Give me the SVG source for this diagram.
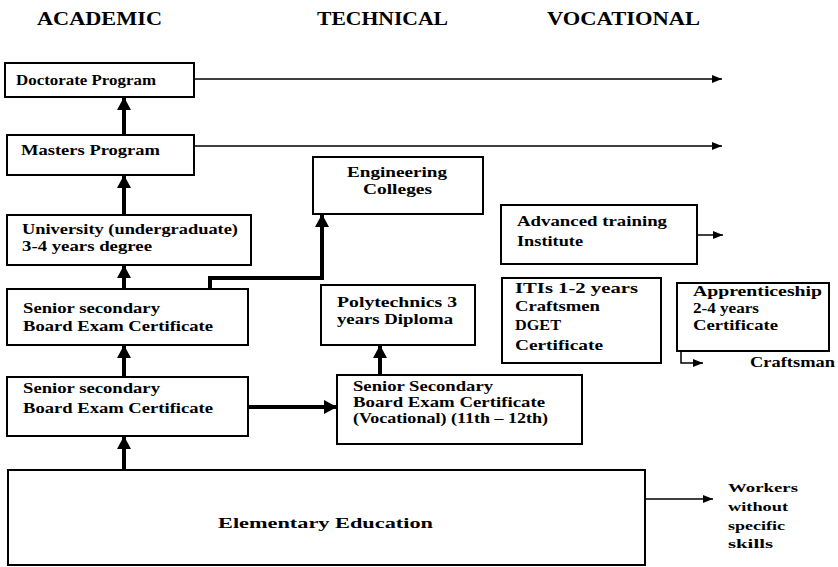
<svg xmlns="http://www.w3.org/2000/svg" width="838" height="567" viewBox="0 0 838 567">
<style>
  .box { fill: #fff; stroke: #000; stroke-width: 2; }
  .t { font-family: "Liberation Serif", "Times New Roman", serif; font-weight: bold; font-size: 14px; fill: #000; }
  .h { font-family: "Liberation Serif", "Times New Roman", serif; font-weight: bold; font-size: 19px; fill: #000; }
  .thick { fill: none; stroke: #000; stroke-width: 4; }
  .thin { fill: none; stroke: #000; stroke-width: 1.5; }
</style>
<defs>
  <marker id="bigArrow" markerUnits="userSpaceOnUse" markerWidth="16" markerHeight="16" refX="12" refY="8" orient="auto">
    <path d="M0,1 L13,8 L0,15 Z" fill="#000"/>
  </marker>
  <marker id="smallArrow" markerUnits="userSpaceOnUse" markerWidth="12" markerHeight="10" refX="10" refY="5" orient="auto">
    <path d="M0,1 L10,5 L0,9 Z" fill="#000"/>
  </marker>
</defs>
<rect width="838" height="567" fill="#fff"/>

<g id="headers">
  <text class="h" x="37" y="25" textLength="125" lengthAdjust="spacingAndGlyphs">ACADEMIC</text>
  <text class="h" x="317" y="25" textLength="131" lengthAdjust="spacingAndGlyphs">TECHNICAL</text>
  <text class="h" x="547" y="25" textLength="153" lengthAdjust="spacingAndGlyphs">VOCATIONAL</text>
</g>

<g id="doctorate">
  <rect class="box" x="5" y="63" width="189" height="34"/>
  <text class="t" x="16" y="85" textLength="140" lengthAdjust="spacingAndGlyphs">Doctorate Program</text>
</g>
<g id="masters">
  <rect class="box" x="7" y="135" width="187" height="40"/>
  <text class="t" x="21" y="155" textLength="139" lengthAdjust="spacingAndGlyphs">Masters Program</text>
</g>
<g id="university">
  <rect class="box" x="7" y="215" width="244" height="50"/>
  <text class="t" x="22" y="234" textLength="216" lengthAdjust="spacingAndGlyphs">University (undergraduate)</text>
  <text class="t" x="22" y="251" textLength="130" lengthAdjust="spacingAndGlyphs">3-4 years degree</text>
</g>
<g id="senior1">
  <rect class="box" x="7" y="289" width="241" height="56"/>
  <text class="t" x="23" y="313" textLength="137" lengthAdjust="spacingAndGlyphs">Senior secondary</text>
  <text class="t" x="23" y="331" textLength="190" lengthAdjust="spacingAndGlyphs">Board Exam Certificate</text>
</g>
<g id="senior2">
  <rect class="box" x="7" y="377" width="241" height="59"/>
  <text class="t" x="23" y="393" textLength="137" lengthAdjust="spacingAndGlyphs">Senior secondary</text>
  <text class="t" x="23" y="413" textLength="190" lengthAdjust="spacingAndGlyphs">Board Exam Certificate</text>
</g>
<g id="elementary">
  <rect class="box" x="8" y="470" width="637" height="95"/>
  <text class="t" x="218" y="528" style="font-size:15px" textLength="215" lengthAdjust="spacingAndGlyphs">Elementary Education</text>
</g>
<g id="engineering">
  <rect class="box" x="313" y="157" width="170" height="57"/>
  <text class="t" x="347" y="177" textLength="100" lengthAdjust="spacingAndGlyphs">Engineering</text>
  <text class="t" x="363" y="194" textLength="69" lengthAdjust="spacingAndGlyphs">Colleges</text>
</g>
<g id="polytechnics">
  <rect class="box" x="321" y="285" width="154" height="60"/>
  <text class="t" x="337" y="307" textLength="120" lengthAdjust="spacingAndGlyphs">Polytechnics 3</text>
  <text class="t" x="337" y="324" textLength="116" lengthAdjust="spacingAndGlyphs">years Diploma</text>
</g>
<g id="vocational">
  <rect class="box" x="337" y="375" width="245" height="69"/>
  <text class="t" x="353" y="391" textLength="140" lengthAdjust="spacingAndGlyphs">Senior Secondary</text>
  <text class="t" x="353" y="407" textLength="192" lengthAdjust="spacingAndGlyphs">Board Exam Certificate</text>
  <text class="t" x="353" y="423" textLength="195" lengthAdjust="spacingAndGlyphs">(Vocational) (11th – 12th)</text>
</g>
<g id="advanced">
  <rect class="box" x="501" y="205" width="196" height="59"/>
  <text class="t" x="517" y="226" textLength="150" lengthAdjust="spacingAndGlyphs">Advanced training</text>
  <text class="t" x="517" y="246" textLength="66" lengthAdjust="spacingAndGlyphs">Institute</text>
</g>
<g id="itis">
  <rect class="box" x="502" y="278" width="159" height="85"/>
  <text class="t" x="515" y="293" textLength="123" lengthAdjust="spacingAndGlyphs">ITIs 1-2 years</text>
  <text class="t" x="515" y="311" textLength="85" lengthAdjust="spacingAndGlyphs">Craftsmen</text>
  <text class="t" x="515" y="330" textLength="46" lengthAdjust="spacingAndGlyphs">DGET</text>
  <text class="t" x="515" y="350" textLength="88" lengthAdjust="spacingAndGlyphs">Certificate</text>
</g>
<g id="apprenticeship">
  <rect class="box" x="677" y="283" width="152" height="68"/>
  <text class="t" x="693" y="296" textLength="129" lengthAdjust="spacingAndGlyphs">Apprenticeship</text>
  <text class="t" x="693" y="313" textLength="66" lengthAdjust="spacingAndGlyphs">2-4 years</text>
  <text class="t" x="693" y="330" textLength="85" lengthAdjust="spacingAndGlyphs">Certificate</text>
</g>
<g id="craftsman">
  <text class="t" x="750" y="367" textLength="85" lengthAdjust="spacingAndGlyphs">Craftsman</text>
</g>
<g id="workers">
  <text class="t" x="728" y="492" style="font-size:13px" textLength="70" lengthAdjust="spacingAndGlyphs">Workers</text>
  <text class="t" x="728" y="511" style="font-size:13px" textLength="60" lengthAdjust="spacingAndGlyphs">without</text>
  <text class="t" x="728" y="530" style="font-size:13px" textLength="57" lengthAdjust="spacingAndGlyphs">specific</text>
  <text class="t" x="728" y="548" style="font-size:13px" textLength="45" lengthAdjust="spacingAndGlyphs">skills</text>
</g>

<g id="connectors">
  <line class="thin" x1="194" y1="79" x2="722" y2="79" marker-end="url(#smallArrow)"/>
  <line class="thin" x1="194" y1="146" x2="722" y2="146" marker-end="url(#smallArrow)"/>
  <line class="thin" x1="697" y1="235" x2="723" y2="235" marker-end="url(#smallArrow)"/>
  <line class="thin" x1="645" y1="499" x2="713" y2="499" marker-end="url(#smallArrow)"/>
  <polyline class="thin" points="681,351 681,363 703,363" marker-end="url(#smallArrow)"/>
  <line class="thick" x1="124" y1="135" x2="124" y2="98" marker-end="url(#bigArrow)"/>
  <line class="thick" x1="124" y1="215" x2="124" y2="176" marker-end="url(#bigArrow)"/>
  <line class="thick" x1="124" y1="289" x2="124" y2="266" marker-end="url(#bigArrow)"/>
  <line class="thick" x1="124" y1="377" x2="124" y2="346" marker-end="url(#bigArrow)"/>
  <line class="thick" x1="124" y1="470" x2="124" y2="437" marker-end="url(#bigArrow)"/>
  <line class="thick" x1="380" y1="375" x2="380" y2="346" marker-end="url(#bigArrow)"/>
  <line class="thick" x1="248" y1="407" x2="336" y2="407" marker-end="url(#bigArrow)"/>
  <polyline class="thick" points="210,289 210,278 322,278 322,215" marker-end="url(#bigArrow)"/>
</g>
</svg>
